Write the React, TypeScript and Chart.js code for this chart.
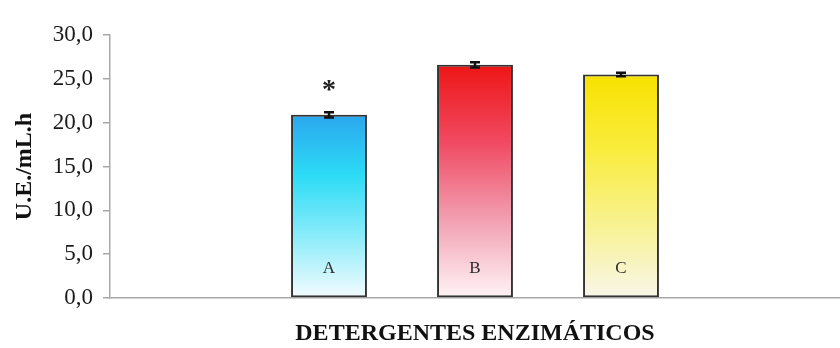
import React, { useEffect, useRef } from "react";
import { Chart, registerables } from "chart.js";

Chart.register(...registerables);

// ---- data ----
const categories: string[] = ["", "A", "B", "C", ""];
const values: (number | null)[] = [null, 20.9, 26.6, 25.5, null];
const errors: (number | null)[] = [null, 0.3, 0.3, 0.2, null];
const markers: string[] = ["", "*", "", "", ""];
const yTitle = "U.E./mL.h";
const xTitle = "DETERGENTES ENZIMÁTICOS";
const yMin = 0;
const yMax = 30;
const yStep = 5;

// ---- styles ----
const gradients: string[][] = [
  [],
  ["#2aa6ee", "#2ddcf6", "#8cecfa", "#f4fcff"],
  ["#ee1515", "#f04a62", "#f2a0b2", "#fff4f6"],
  ["#f8e200", "#f9ec3c", "#f8f290", "#f8f6ea"],
];
const SERIF = "'Liberation Serif', 'Times New Roman', serif";

const overlayPlugin = {
  id: "overlay",
  afterDatasetsDraw(chart: any) {
    const ctx = chart.ctx;
    const x = chart.scales.x;
    const y = chart.scales.y;
    ctx.save();
    categories.forEach((cat, i) => {
      const v = values[i];
      if (v == null) return;
      const cx = x.getPixelForValue(i);
      const e = errors[i] ?? 0;
      const yTop = y.getPixelForValue(v + e);
      const yBot = y.getPixelForValue(v - e);
      // error bar
      ctx.strokeStyle = "#111";
      ctx.lineWidth = 2.5;
      ctx.beginPath();
      ctx.moveTo(cx, yTop);
      ctx.lineTo(cx, yBot);
      ctx.moveTo(cx - 5, yTop);
      ctx.lineTo(cx + 5, yTop);
      ctx.moveTo(cx - 5, yBot);
      ctx.lineTo(cx + 5, yBot);
      ctx.stroke();
      // marker
      if (markers[i]) {
        ctx.fillStyle = "#222";
        ctx.font = `bold 28px ${SERIF}`;
        ctx.textAlign = "center";
        ctx.textBaseline = "alphabetic";
        ctx.fillText(markers[i], cx, yTop - 14);
      }
      // category label inside bar
      ctx.fillStyle = "#2a2a2a";
      ctx.font = `17px ${SERIF}`;
      ctx.textAlign = "center";
      ctx.textBaseline = "middle";
      ctx.fillText(cat, cx, y.getPixelForValue(0) - 29);
    });
    ctx.restore();
  },
};

export default function App() {
  const ref = useRef<HTMLCanvasElement | null>(null);
  useEffect(() => {
    document.body.style.margin = "0";
    const canvas = ref.current!;
    const chart = new Chart(canvas, {
      type: "bar",
      data: {
        labels: categories,
        datasets: [
          {
            data: values as any,
            backgroundColor: (c: any) => {
              const ch = c.chart;
              const i = c.dataIndex;
              const v = values[i];
              const stops = gradients[i] || [];
              if (!ch.chartArea || v == null || !stops.length) return "#fff";
              const ys = ch.scales.y;
              const top = ys.getPixelForValue(v);
              const bot = ys.getPixelForValue(0);
              const g = ch.ctx.createLinearGradient(0, top, 0, bot);
              stops.forEach((s, k) => g.addColorStop(k / (stops.length - 1), s));
              return g;
            },
            borderColor: "#333",
            borderWidth: 2,
            borderSkipped: false,
            categoryPercentage: 1,
            barPercentage: 0.52,
          },
        ],
      },
      options: {
        responsive: false,
        animation: false,
        layout: { padding: { top: 35, left: 0, right: 0, bottom: 0 } },
        plugins: { legend: { display: false }, tooltip: { enabled: false } },
        scales: {
          x: {
            grid: { display: false },
            border: { display: true, color: "#a8a8a8", width: 1.5 },
            ticks: { display: false },
            title: {
              display: true,
              text: xTitle,
              color: "#111",
              font: { family: SERIF, size: 24, weight: "bold" },
              padding: { top: 3, bottom: 0 },
            },
            afterFit: (s: any) => {
              s.height = 50;
            },
          },
          y: {
            min: yMin,
            max: yMax,
            ticks: {
              stepSize: yStep,
              color: "#1a1a1a",
              padding: 10,
              font: { family: SERIF, size: 23 },
              callback: (v: any) => Number(v).toFixed(1).replace(".", ","),
            },
            grid: { display: true, drawOnChartArea: false, tickLength: 7, color: "#a8a8a8", lineWidth: 1.5 },
            border: { display: true, color: "#a8a8a8", width: 1.5 },
            title: {
              display: true,
              text: yTitle,
              color: "#111",
              font: { family: SERIF, size: 24, weight: "bold" },
              padding: { top: 10, bottom: 0 },
            },
            afterFit: (s: any) => {
              s.width = 110;
            },
          },
        },
      },
      plugins: [overlayPlugin],
    });
    return () => chart.destroy();
  }, []);
  return (
    <div style={{ width: 840, height: 348, background: "#fff" }}>
      <canvas ref={ref} width={840} height={348} />
    </div>
  );
}
